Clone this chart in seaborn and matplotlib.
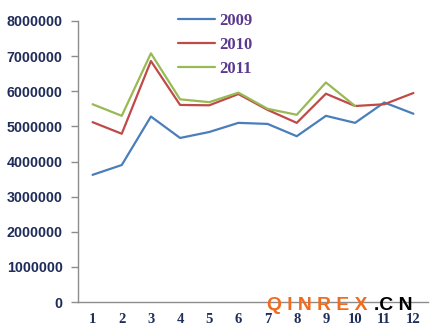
import matplotlib
matplotlib.use("Agg")
import matplotlib.pyplot as plt
import seaborn as sns
import pandas as pd
import numpy as np

months = list(range(1, 13))
y2009 = [3620000, 3900000, 5280000, 4670000, 4840000, 5100000, 5070000, 4720000, 5300000, 5100000, 5680000, 5360000]
y2010 = [5120000, 4790000, 6860000, 5610000, 5600000, 5920000, 5470000, 5100000, 5930000, 5580000, 5630000, 5950000]
y2011 = [5630000, 5300000, 7080000, 5770000, 5690000, 5960000, 5500000, 5330000, 6250000, 5580000]
series_names = ["2009", "2010", "2011"]
yticks = [0, 1000000, 2000000, 3000000, 4000000, 5000000, 6000000, 7000000, 8000000]

rows = []
for name, vals in zip(series_names, [y2009, y2010, y2011]):
    for m, v in zip(months, vals):
        rows.append({"month": m, "value": v, "year": name})
df = pd.DataFrame(rows)

sns.set_style("white")
fig = plt.figure(figsize=(4.36, 3.27), dpi=100)
ax = fig.add_axes([78/436, 25/327, 350/436, 281/327])

palette = {"2009": "#4a7ebb", "2010": "#be4b48", "2011": "#98b954"}
sns.lineplot(data=df, x="month", y="value", hue="year", palette=palette,
             linewidth=1.6, ax=ax, legend=True)

ax.set_xlim(0.5, 12.5)
ax.set_ylim(0, 8000000)
ax.set_yticks(yticks)
ax.set_yticklabels([str(t) for t in yticks], fontfamily="Liberation Sans",
                   fontweight="bold", fontsize=10.3, color="#1f2d5a")
ax.set_xticks(months)
ax.set_xticklabels([str(m) for m in months], fontfamily="Liberation Serif",
                   fontweight="bold", fontsize=10.5, color="#1f2d5a")
ax.set_xlabel("")
ax.set_ylabel("")
for s in ["top", "right"]:
    ax.spines[s].set_visible(False)
for s in ["left", "bottom"]:
    ax.spines[s].set_color("#8c8c8c")
    ax.spines[s].set_linewidth(1.0)
ax.tick_params(axis="y", length=5, width=1, color="#8c8c8c", direction="out", pad=6, left=True)
ax.tick_params(axis="x", length=0, pad=8)
ax.grid(False)

leg = ax.legend(loc="upper left", bbox_to_anchor=(178/436, 1 - 13/327),
                bbox_transform=fig.transFigure, frameon=False,
                borderpad=0, borderaxespad=0, handlelength=2.2, handletextpad=0.25,
                labelspacing=0.47,
                prop={"family": "Liberation Serif", "weight": "bold", "size": 12})
for t in leg.get_texts():
    t.set_color("#5b3a8e")

fig.text(267/436, 1 - 305.5/327, "Q I N R E X", color="#f26a1b",
         fontfamily="Liberation Sans", fontweight="bold", fontsize=13.9,
         ha="left", va="center", zorder=10)
fig.text(374/436, 1 - 305.5/327, ".C N", color="#000000",
         fontfamily="Liberation Sans", fontweight="bold", fontsize=13.9,
         ha="left", va="center", zorder=10)

fig.savefig("out.png", dpi=100, facecolor="white")
